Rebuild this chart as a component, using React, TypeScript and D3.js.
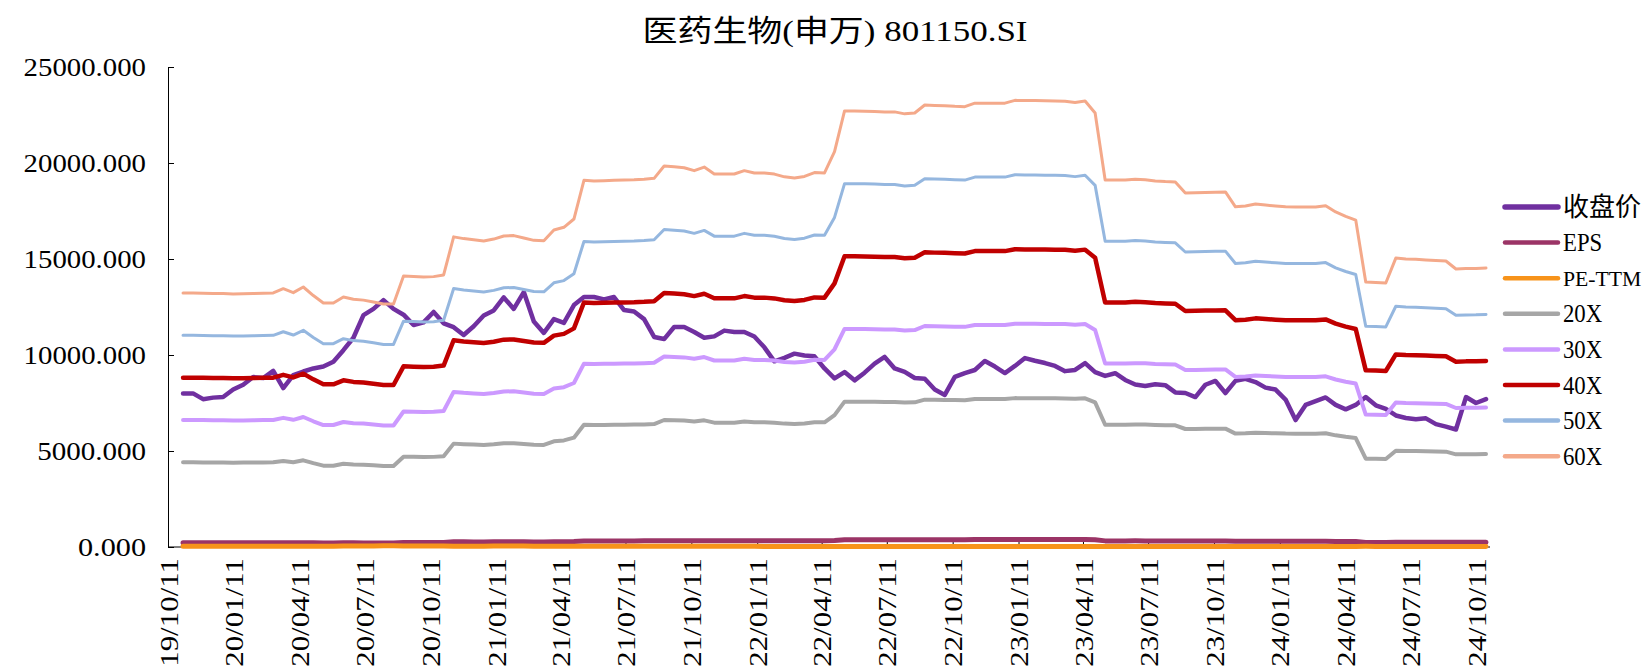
import React, { useEffect, useRef } from "react";
import * as d3 from "d3";

// samples every 2 weeks starting at this date
const startDate = "2019-11-01";
const stepDays = 14;

const tickLabels = [
  "19/10/11", "20/01/11", "20/04/11", "20/07/11", "20/10/11", "21/01/11", "21/04/11",
  "21/07/11", "21/10/11", "22/01/11", "22/04/11", "22/07/11", "22/10/11", "23/01/11",
  "23/04/11", "23/07/11", "23/10/11", "24/01/11", "24/04/11", "24/07/11", "24/10/11",
];

const yTicks = [0, 5000, 10000, 15000, 20000, 25000];

// 收盘价
const closePrice = [
  8000, 8000, 7700, 7780, 7810, 8200, 8450, 8850, 8800, 9170,
  8280, 8950, 9140, 9300, 9400, 9650, 10250, 10900, 12080, 12400,
  12860, 12400, 12100, 11560, 11700, 12240, 11650, 11450, 11040, 11500,
  12060, 12320, 13000, 12400, 13280, 11750, 11150, 11870, 11670, 12600,
  13020, 13020, 12900, 13020, 12340, 12270, 11870, 10940, 10830, 11460,
  11460, 11200, 10900, 10970, 11270, 11200, 11200, 10960, 10400, 9670,
  9850, 10070, 9970, 9930, 9300, 8780, 9110, 8680, 9080, 9550,
  9900, 9300, 9120, 8800, 8760, 8200, 7920, 8860, 9060, 9220,
  9690, 9400, 9060, 9430, 9840, 9700, 9580, 9430, 9160, 9220,
  9580, 9110, 8910, 9050, 8700, 8460, 8390, 8480, 8430, 8050,
  8020, 7810, 8450, 8650, 8020, 8650, 8760, 8590, 8300, 8200,
  7680, 6610, 7400, 7600, 7790, 7400, 7170, 7400, 7810, 7380,
  7190, 6850, 6720, 6650, 6700, 6400, 6270, 6120, 7810, 7500,
  7700,
];

// EPS (TTM)
const eps = [
  220.5, 220.5, 220.3, 220.0, 220.0, 219.7, 219.8, 220.0, 220.3, 220.5,
  224.2, 220.8, 225.7, 218.3, 211.8, 211.8, 217.0, 215.0, 214.3, 212.7,
  211.0, 211.0, 235.2, 234.8, 234.3, 234.7, 236.2, 269.2, 267.7, 266.7,
  265.7, 267.3, 270.0, 270.3, 268.3, 266.2, 265.8, 275.2, 277.5, 284.7,
  318.3, 317.7, 318.0, 318.3, 318.5, 318.7, 319.2, 320.0, 330.7, 330.0,
  329.2, 326.7, 329.8, 323.8, 323.8, 323.8, 326.7, 324.7, 324.7, 323.7,
  321.3, 320.3, 321.7, 325.0, 324.7, 343.3, 378.5, 378.5, 378.3, 378.0,
  377.7, 377.7, 376.0, 376.7, 383.7, 383.3, 383.0, 382.5, 382.2, 385.3,
  385.3, 385.3, 385.3, 387.7, 387.5, 387.5, 387.3, 387.2, 387.0, 385.8,
  387.2, 376.7, 318.5, 318.5, 318.5, 319.2, 318.8, 317.8, 317.2, 316.8,
  307.3, 307.5, 307.8, 308.0, 308.2, 295.3, 296.0, 297.7, 296.8, 296.0,
  295.3, 295.2, 295.2, 295.2, 296.3, 290.8, 287.0, 283.8, 230.0, 229.7,
  229.2, 250.8, 250.0, 249.7, 249.2, 248.7, 248.3, 241.3, 241.7, 241.8,
  242.2,
];

// PE bands: multiple x EPS
const multiples = [20, 30, 40, 50, 60];

const seriesNames = ["收盘价", "EPS", "PE-TTM", "20X", "30X", "40X", "50X", "60X"];
const seriesColors = ["#7030A0", "#9B3466", "#F7931A", "#A6A6A6", "#CC99FF", "#C00000", "#95B7DF", "#F4A98A"];
const seriesWidths = [4.5, 5, 5, 4, 4, 4.5, 3, 3];

const FONT = "'Liberation Serif', 'Noto Sans CJK SC', serif";
// half-width latin glyphs, like the original font
const CHAR_W = 13.6;

export default function App() {
  const ref = useRef<SVGSVGElement>(null);

  useEffect(() => {
    const svg = d3.select(ref.current);
    svg.selectAll("*").remove();

    const parse = d3.timeParse("%y/%m/%d");
    const tickDates = tickLabels.map((t) => parse(t) as Date);
    const start = d3.timeParse("%Y-%m-%d")(startDate) as Date;
    const dates = closePrice.map((_, i) => d3.timeDay.offset(start, i * stepDays));

    const pe = closePrice.map((c, i) => c / eps[i]);
    const bands = multiples.map((m) => eps.map((e) => e * m));
    const allSeries = [closePrice, eps, pe, ...bands];

    const x = d3
      .scaleTime()
      .domain([tickDates[0], tickDates[tickDates.length - 1]])
      .range([168, 1476]);
    const y = d3.scaleLinear().domain([0, 25000]).range([547, 67]);

    // title
    svg
      .append("text")
      .attr("x", 835)
      .attr("y", 30)
      .attr("text-anchor", "middle")
      .attr("dominant-baseline", "central")
      .attr("font-family", FONT)
      .attr("font-size", 30)
      .attr("textLength", 385)
      .attr("lengthAdjust", "spacingAndGlyphs")
      .text("医药生物(申万) 801150.SI");

    // y axis
    const fmt = d3.format(".3f");
    const yAxis = svg
      .append("g")
      .attr("transform", "translate(168,0)")
      .call(
        d3
          .axisLeft(y)
          .tickValues(yTicks)
          .tickSizeInner(-6)
          .tickSizeOuter(0)
          .tickPadding(22)
          .tickFormat(fmt)
      );
    yAxis
      .selectAll("text")
      .attr("font-family", FONT)
      .attr("font-size", 26)
      .attr("fill", "#000")
      .attr("textLength", (d: any) => fmt(d).length * CHAR_W)
      .attr("lengthAdjust", "spacingAndGlyphs");
    yAxis.selectAll("line, path").attr("stroke", "#000");

    // x axis
    const xAxis = svg
      .append("g")
      .attr("transform", "translate(0,547)")
      .call(
        d3
          .axisBottom(x)
          .tickValues(tickDates)
          .tickSizeInner(-5)
          .tickSizeOuter(0)
          .tickFormat((d, i) => tickLabels[i])
      );
    xAxis.select(".domain").remove();
    xAxis.selectAll("line").attr("stroke", "#000");
    xAxis
      .selectAll("text")
      .attr("font-family", FONT)
      .attr("font-size", 26)
      .attr("fill", "#000")
      .attr("transform", "rotate(-90)")
      .attr("text-anchor", "end")
      .attr("x", -11)
      .attr("y", 0)
      .attr("dy", "0.35em")
      .attr("textLength", 8 * CHAR_W)
      .attr("lengthAdjust", "spacingAndGlyphs");
    svg
      .append("line")
      .attr("x1", 168)
      .attr("x2", 1490)
      .attr("y1", 547)
      .attr("y2", 547)
      .attr("stroke", "#000");

    // lines
    const line = d3
      .line<number>()
      .x((d, i) => x(dates[i]))
      .y((d) => y(d));

    allSeries.forEach((s, k) => {
      svg
        .append("path")
        .datum(s)
        .attr("d", line)
        .attr("fill", "none")
        .attr("stroke", seriesColors[k])
        .attr("stroke-width", seriesWidths[k])
        .attr("stroke-linejoin", "round")
        .attr("stroke-linecap", "round");
    });

    // legend
    const legend = svg.append("g").attr("transform", "translate(1505,207)");
    seriesNames.forEach((name, k) => {
      const row = legend.append("g").attr("transform", `translate(0,${k * 35.6})`);
      row
        .append("line")
        .attr("x1", 0)
        .attr("x2", 53)
        .attr("stroke", seriesColors[k])
        .attr("stroke-width", k === 0 ? 5.5 : 4.5)
        .attr("stroke-linecap", "round");
      const t = row
        .append("text")
        .attr("x", 58)
        .attr("dominant-baseline", "central")
        .attr("font-family", FONT)
        .attr("font-size", name.length > 4 ? 22 : 26)
        .text(name);
      if (k > 0) t.attr("textLength", name.length * CHAR_W * 0.96).attr("lengthAdjust", "spacingAndGlyphs");
    });
  }, []);

  return (
    <svg
      ref={ref}
      width={1646}
      height={672}
      style={{ position: "absolute", left: 0, top: 0, background: "#fff" }}
    ></svg>
  );
}
